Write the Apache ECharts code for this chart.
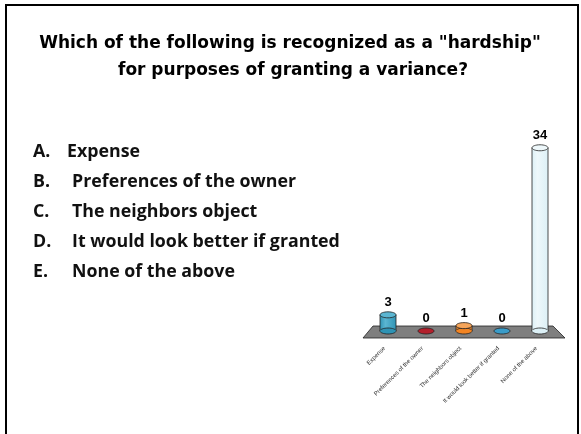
<!DOCTYPE html>
<html>
<head>
<meta charset="utf-8">
<script src="https://cdn.jsdelivr.net/npm/echarts@6/dist/echarts.min.js"></script>
<style>
  html, body { margin: 0; padding: 0; background: #fff; }
  #main { width: 581px; height: 434px; }
</style>
</head>
<body>
<div id="main"></div>
<script>
// poll answers
const categories = ["Expense", "Preferences of the owner", "The neighbors object", "It would look better if granted", "None of the above"];
const votes = [3, 0, 1, 0, 34];
const barColors = ["#2f93b4", "#b3202c", "#f28422", "#3a9cc9", "#dcf0f6"];
const topColors = ["#5bb6d2", "#d8434f", "#f6a55a", "#6fbddf", "#eef8fb"];
const letters = ["A.", "B.", "C.", "D.", "E."];
const answers = ["Expense", "Preferences of the owner", "The neighbors object", "It would look better if granted", "None of the above"];

const chart = echarts.init(document.getElementById("main"));

const listFont = "bold 17.8px 'Open Sans'";
let listItems = [];
answers.forEach((t, i) => {
  listItems.push({ type: "text", left: 33, top: 143 + i * 30, style: { text: letters[i], font: listFont, fill: "#111" } });
  listItems.push({ type: "text", left: i == 0 ? 67 : 72, top: 143 + i * 30, style: { text: t, font: listFont, fill: "#111" } });
});

const titleLines = ['Which of the following is recognized as a "hardship"', "for purposes of granting a variance?"];
const titleStyle = { fontFamily: "DejaVu Sans", fontWeight: "bold", fontSize: 17, fill: "#000", align: "center", verticalAlign: "top" };

const option = {
  backgroundColor: "#fff",
  animation: false,
  grid: { left: 369, right: 22, top: 137, bottom: 103 },
  xAxis: {
    type: "category",
    data: categories,
    axisLine: { show: false },
    axisTick: { show: false },
    axisLabel: { rotate: 45, fontSize: 6, color: "#333", margin: 13, padding: [0, 5, 0, 0], interval: 0 }
  },
  yAxis: { type: "value", min: 0, max: 36, show: false, splitLine: { show: false } },
  graphic: [
    { type: "rect", shape: { x: 6, y: 5, width: 572, height: 440 }, style: { fill: "none", stroke: "#000", lineWidth: 2 }, z: 0 },
    { type: "text", x: 290, y: 35, style: Object.assign({ text: titleLines[0] }, titleStyle) },
    { type: "text", x: 293, y: 62, style: Object.assign({ text: titleLines[1] }, titleStyle) },
    { type: "polygon", shape: { points: [[373, 326], [553, 326], [565, 338], [363, 338]] }, style: { fill: "#7f7f7f", stroke: "#222", lineWidth: 0.8 }, z: 1 }
  ].concat(listItems),
  series: [{
    type: "custom",
    data: votes,
    z: 5,
    renderItem: function (params, api) {
      const i = params.dataIndex;
      const v = api.value(1);
      const base = api.coord([i, 0]);
      const top = api.coord([i, v]);
      const w = 16, ry = 3;
      const x = base[0] - w / 2;
      const kids = [];
      if (v > 0) {
        kids.push({
          type: "rect",
          shape: { x: x, y: top[1], width: w, height: base[1] - top[1] },
          style: {
            fill: new echarts.graphic.LinearGradient(0, 0, 1, 0, [
              { offset: 0, color: barColors[i] },
              { offset: 0.35, color: topColors[i] },
              { offset: 1, color: barColors[i] }
            ]),
            stroke: "#222", lineWidth: 0.8
          }
        });
        kids.push({
          type: "ellipse",
          shape: { cx: base[0], cy: base[1], rx: w / 2, ry: ry },
          style: { fill: barColors[i], stroke: "#222", lineWidth: 0.8 }
        });
        kids.push({
          type: "rect",
          shape: { x: x + 0.4, y: base[1] - 1, width: w - 0.8, height: 1.5 },
          style: { fill: barColors[i] }
        });
      }
      kids.push({
        type: "ellipse",
        shape: { cx: top[0], cy: top[1], rx: w / 2, ry: ry },
        style: { fill: v > 0 ? topColors[i] : barColors[i], stroke: "#222", lineWidth: 0.8 }
      });
      kids.push({
        type: "text",
        style: {
          text: String(v), x: top[0], y: top[1] - 6,
          align: "center", verticalAlign: "bottom",
          font: "bold 13px 'Liberation Sans'", fill: "#000"
        }
      });
      return { type: "group", children: kids };
    }
  }]
};

chart.setOption(option);
</script>
</body>
</html>
